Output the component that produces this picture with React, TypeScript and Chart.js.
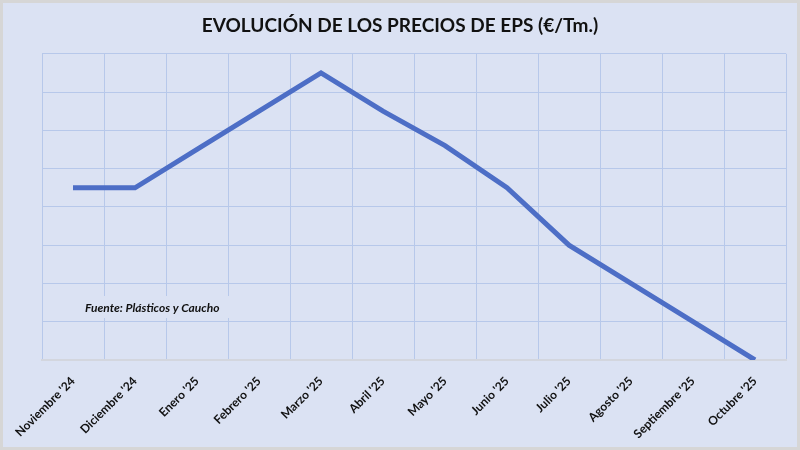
import React, { useEffect, useRef } from 'react';
import { Chart, registerables, Plugin } from 'chart.js';

Chart.register(...registerables);

const meses = [
  "Noviembre '24",
  "Diciembre '24",
  "Enero '25",
  "Febrero '25",
  "Marzo '25",
  "Abril '25",
  "Mayo '25",
  "Junio '25",
  "Julio '25",
  "Agosto '25",
  "Septiembre '25",
  "Octubre '25",
];

const precios = [4.5, 4.5, 5.5, 6.5, 7.5, 6.5, 5.6, 4.5, 3, 2, 1, 0];

const titulo = 'EVOLUCIÓN DE LOS PRECIOS DE EPS (€/Tm.)';
const fuente = 'Fuente: Plásticos y Caucho';

const FONT = 'Lato, "Open Sans", sans-serif';
const BG = '#dbe2f3';
const GRID = '#b7c8ea';

const fondo: Plugin<'line'> = {
  id: 'fondo',
  beforeDraw(chart) {
    const { ctx, width, height } = chart;
    ctx.save();
    ctx.fillStyle = BG;
    ctx.fillRect(0, 0, width, height);
    ctx.strokeStyle = '#d6d6d6';
    ctx.lineWidth = 3;
    ctx.strokeRect(1.5, 1.5, width - 3, height - 3);
    ctx.restore();
  },
};

const nota: Plugin<'line'> = {
  id: 'nota',
  beforeDatasetsDraw(chart) {
    const { ctx } = chart;
    ctx.save();
    ctx.fillStyle = BG;
    ctx.fillRect(56, 296, 178, 22);
    ctx.fillStyle = '#111';
    ctx.font = `italic bold 12px ${FONT}`;
    ctx.textBaseline = 'middle';
    ctx.fillText(fuente, 85, 308);
    ctx.restore();
  },
};

export default function App() {
  const canvasRef = useRef<HTMLCanvasElement>(null);

  useEffect(() => {
    document.body.style.margin = '0';
    if (!canvasRef.current) return;
    const chart = new Chart(canvasRef.current, {
      type: 'line',
      data: {
        labels: meses,
        datasets: [
          {
            data: precios,
            borderColor: '#4d6ec6',
            borderWidth: 5,
            pointRadius: 0,
            tension: 0,
            borderJoinStyle: 'miter',
          },
        ],
      },
      options: {
        animation: false,
        responsive: false,
        layout: { padding: { left: 14, right: 14, top: 0, bottom: 0 } },
        plugins: {
          legend: { display: false },
          tooltip: { enabled: false },
          title: {
            display: true,
            text: titulo,
            color: '#111',
            font: { family: FONT, size: 19, weight: 'bold' },
            padding: { top: 14, bottom: 17 },
          },
        },
        scales: {
          x: {
            offset: true,
            grid: { offset: true, color: GRID, drawTicks: false },
            border: { color: '#d3d6de', width: 2 },
            ticks: {
              minRotation: 45,
              maxRotation: 45,
              autoSkip: false,
              padding: 14,
              color: '#111',
              font: { family: FONT, size: 12, weight: 'bold' },
            },
            afterFit: (s) => {
              s.height = 90;
            },
          },
          y: {
            min: 0,
            max: 8,
            ticks: { display: false, stepSize: 1 },
            grid: { color: GRID, drawTicks: false },
            border: { display: false },
            afterFit: (s) => {
              s.width = 28;
            },
          },
        },
      },
      plugins: [fondo, nota],
    });
    return () => chart.destroy();
  }, []);

  return (
    <div style={{ position: 'fixed', left: 0, top: 0, width: 800, height: 450 }}>
      <canvas ref={canvasRef} width={800} height={450} />
    </div>
  );
}
